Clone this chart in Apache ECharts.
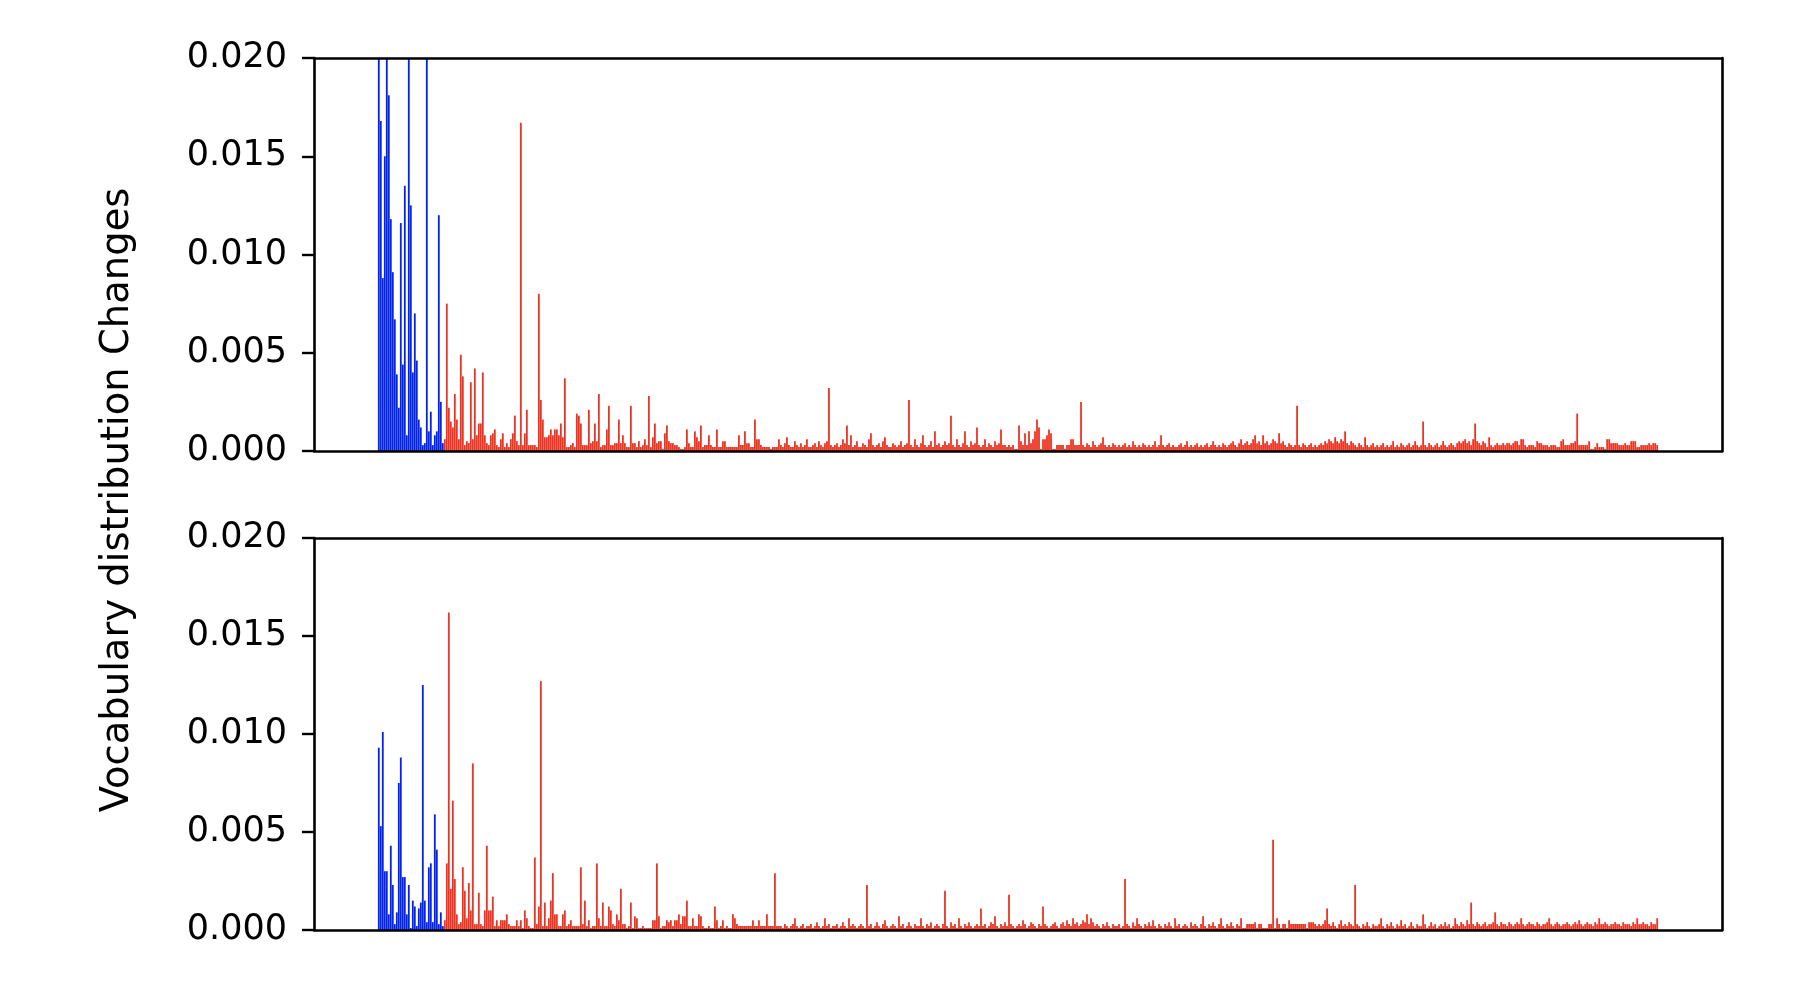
<!DOCTYPE html>
<html><head><meta charset="utf-8">
<script src="https://cdn.jsdelivr.net/npm/echarts@6/dist/echarts.min.js"></script>
<style>html,body{margin:0;padding:0;background:#fff}#c{width:1800px;height:1008px}</style>
</head><body><div id="c"></div>
<script>
// values typed in units of 0.0001
const UNIT = 1e-4;
const yTicks = [0.000, 0.005, 0.010, 0.015, 0.020];
const yLabel = 'Vocabulary distribution Changes';

const topBlue = [230,168,88,150,240,181,118,91,67,39,22,116,44,135,8,260,125,40,70,46,16,12,3,4,215,10,20,3,8,10,120,25,4];
const topRed = [
6,75,22,15,12,29,16,6,49,38,3,5,4,35,6,42,8,14,14,40,8,4,3,
8,9,11,3,2,6,9,2,4,2,6,9,18,5,3,167,3,9,21,3,3,3,3,2,80,26,16,7,7,8,11,8,11,11,8,14,7,37,2,2,3,4,2,19,18,
14,3,3,3,21,4,5,14,5,29,
2,3,3,11,23,3,3,4,4,16,
4,8,4,2,2,23,4,4,2,5,
2,3,6,3,28,2,7,14,4,5,
5,1,9,13,5,4,4,3,3,2,
1,1,2,11,4,2,2,10,7,5,
13,2,3,3,8,3,2,2,11,2,
2,5,5,2,2,2,2,2,2,8,
3,3,10,4,4,2,2,16,6,6,
3,2,2,2,2,1,2,2,2,6,
3,2,4,7,3,2,2,5,3,2,4,2,3,6,2,2,3,4,2,5,
3,2,4,5,32,3,2,3,4,2,3,6,4,13,3,8,2,3,5,2,
2,4,3,2,6,9,3,2,3,4,2,5,7,3,2,2,4,3,2,3,
5,2,3,4,26,3,2,6,3,2,4,8,3,2,3,5,2,10,3,4,
2,3,5,3,4,18,3,2,6,3,2,4,10,3,2,5,3,4,12,3,
2,3,6,2,4,3,2,5,3,4,
11,3,3,2,3,2,3,1,1,13,5,3,9,3,10,4,6,10,16,12,1,6,6,8,11,9,1,1,3,3,3,3,1,3,3,6,6,3,3,3,
25,3,2,4,3,2,5,3,2,3,4,7,3,2,3,2,4,3,2,3,
2,3,4,2,3,2,5,3,2,3,2,4,3,2,3,2,3,5,2,3,
8,3,2,3,4,2,3,2,2,3,4,2,3,5,2,3,2,3,4,2,
3,2,3,4,2,3,5,3,2,3,2,4,3,2,3,4,5,3,2,4,
6,3,4,5,3,4,6,8,4,5,3,8,4,5,3,4,6,5,4,9,
4,5,3,2,4,3,2,3,23,3,2,4,3,2,3,4,2,3,2,3,
4,3,5,4,6,5,4,7,5,4,6,5,10,4,3,5,4,3,2,4,
3,2,7,3,2,3,4,2,3,2,
3,4,2,3,2,3,5,2,3,2,4,3,2,3,4,2,3,5,3,2,
3,15,3,2,4,3,2,3,4,2,3,5,3,2,3,4,3,2,4,5,
4,5,6,4,5,3,6,14,5,4,3,5,4,2,7,3,2,3,4,3,
3,4,3,4,4,3,4,5,5,3,6,6,3,2,3,3,3,2,5,4,
4,3,3,3,2,3,3,3,2,2,5,6,3,3,3,4,4,5,19,3,
3,3,3,3,5,1,1,2,4,2,2,2,1,6,6,4,4,4,4,3,
3,3,4,3,3,5,5,5,2,2,3,3,3,3,4,3,4,4,3];

const bottomBlue = [93,53,101,30,30,8,43,23,3,9,75,88,27,27,8,23,1,15,12,2,11,14,125,15,4,32,34,4,59,41,3,9,2];
const bottomRed = [
5,34,162,21,66,26,8,3,4,32,20,6,24,10,85,3,3,19,3,2,10,43,10,
10,17,2,5,2,5,5,5,8,3,2,2,2,5,2,5,1,10,6,2,1,1,37,3,12,127,2,14,2,6,15,29,8,8,2,2,8,10,2,3,5,2,2,2,2,
32,3,15,2,5,1,2,2,34,6,
2,14,2,2,12,10,3,2,8,5,
21,3,3,1,2,14,1,7,6,1,
1,2,1,1,1,1,5,5,34,7,
1,2,2,5,4,5,2,5,5,8,
3,7,7,15,2,2,6,2,2,8,
7,2,1,1,2,1,1,12,5,1,
2,5,1,2,1,1,8,6,3,2,
2,2,2,2,2,2,5,2,2,5,
2,2,2,8,2,2,2,29,2,2,
2,1,3,2,1,2,3,6,2,1,2,3,1,2,2,3,1,2,4,2,
1,2,6,2,3,1,2,2,3,1,2,4,2,1,6,2,3,2,1,2,
3,2,1,23,2,3,1,2,4,2,1,3,5,2,1,2,3,2,1,7,
2,3,1,2,4,2,1,3,2,2,6,2,1,3,2,4,1,2,3,2,
1,3,20,2,1,4,2,3,1,6,2,1,3,2,4,2,1,2,3,2,
11,2,3,1,2,4,3,7,2,1,3,2,4,2,18,3,2,1,2,3,
2,5,3,1,2,4,3,2,1,3,2,12,3,2,1,2,3,4,2,1,
3,4,2,5,3,2,6,3,4,2,3,5,4,8,3,6,4,2,3,2,
1,3,2,4,2,1,3,2,2,3,1,2,26,3,2,1,4,2,6,3,
2,1,3,2,4,2,5,2,1,3,2,1,3,2,4,2,1,6,2,3,
1,2,3,2,1,4,2,3,2,1,3,7,2,1,3,2,4,2,1,3,
6,2,1,3,2,4,2,1,3,2,
6,1,1,3,3,3,3,4,1,3,
3,1,1,1,3,3,46,1,6,3,
1,3,3,1,5,3,3,3,3,3,
3,3,3,1,4,4,4,3,2,3,
2,3,5,11,3,2,4,2,1,3,5,2,3,2,4,3,2,23,3,2,
1,3,2,4,2,1,3,2,2,3,6,2,1,3,2,4,2,1,3,2,
5,2,3,1,2,4,2,1,3,2,2,8,3,1,2,4,2,3,1,2,
3,2,4,2,3,1,2,6,3,2,4,3,2,5,3,14,3,2,4,3,
2,3,4,2,3,3,4,9,3,2,4,3,3,2,4,3,2,3,4,3,
6,3,2,3,4,3,3,2,4,3,2,3,3,4,6,3,2,3,4,3,
2,3,3,4,3,2,3,4,3,5,3,2,3,4,3,3,2,4,3,6,
3,3,4,3,2,3,3,4,3,3,2,4,3,3,3,2,4,3,6,3,
3,4,3,3,2,4,3,3,6];

const BLUE = '#0022f2', RED = '#ee3322';
const FONT = 'DejaVu Sans';

function makeData(blue, red) {
  const out = [];
  blue.forEach((v, i) => out.push({ value: [i, v * UNIT], itemStyle: { color: BLUE } }));
  red.forEach((v, j) => out.push({ value: [blue.length + j, v * UNIT], itemStyle: { color: RED } }));
  return out;
}

const panels = [[topBlue, topRed], [bottomBlue, bottomRed]];
const grids = [
  { left: 314, top: 58, width: 1408, height: 393 },
  { left: 314, top: 538, width: 1408, height: 392 }
];
const line = { show: true, onZero: false, lineStyle: { color: '#000', width: 2.6 } };
const xAxes = [], yAxes = [], series = [];
panels.forEach(([b, r], g) => {
  const N = b.length + r.length;
  const span = N - 0.2;
  const xMin = -0.4 - 0.05 * span, xMax = N - 0.6 + 0.05 * span;
  ['bottom', 'top'].forEach(pos => xAxes.push({
    gridIndex: g, type: 'value', min: xMin, max: xMax, position: pos, z: 10,
    axisLine: line, axisTick: { show: false }, axisLabel: { show: false }, splitLine: { show: false }
  }));
  yAxes.push({
    gridIndex: g, type: 'value', min: yTicks[0], max: yTicks[yTicks.length - 1],
    interval: yTicks[1] - yTicks[0], position: 'left', z: 10,
    axisLine: line,
    axisTick: { show: true, inside: false, length: 12, lineStyle: { color: '#000', width: 2.4 } },
    axisLabel: { formatter: v => v.toFixed(3), fontSize: 35, fontFamily: FONT, color: '#000', margin: 27 },
    splitLine: { show: false }
  });
  yAxes.push({
    gridIndex: g, type: 'value', min: yTicks[0], max: yTicks[yTicks.length - 1], position: 'right', z: 10,
    axisLine: line, axisTick: { show: false }, axisLabel: { show: false }, splitLine: { show: false }
  });
  series.push({
    type: 'bar', xAxisIndex: 2 * g, yAxisIndex: 2 * g, barWidth: '90%', clip: true,
    data: makeData(b, r), animation: false
  });
});

const chart = echarts.init(document.getElementById('c'), null, { renderer: 'canvas' });
chart.setOption({
  backgroundColor: '#fff',
  animation: false,
  grid: grids,
  xAxis: xAxes,
  yAxis: yAxes,
  series: series,
  graphic: [{
    type: 'text', x: 118, y: 500, rotation: Math.PI / 2,
    style: { text: yLabel, fontSize: 38.5, fontFamily: FONT, fill: '#000',
             align: 'center', verticalAlign: 'middle', textAlign: 'center', textVerticalAlign: 'middle' }
  }]
});
</script>
</body></html>
